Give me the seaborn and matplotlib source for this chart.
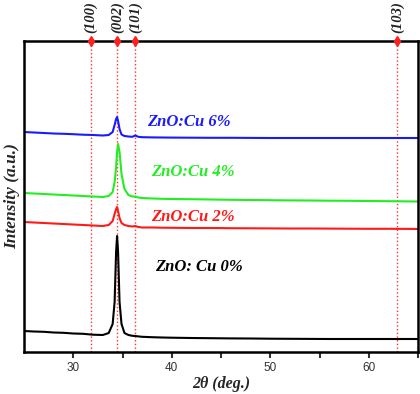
import matplotlib
matplotlib.use("Agg")
import matplotlib.pyplot as plt
import seaborn as sns
import pandas as pd

# ---- data ----
two_theta = [25, 26, 27, 28, 29, 30, 31, 32, 33, 33.6, 34.0, 34.2, 34.35, 34.45,
             34.55, 34.7, 34.9, 35.2, 35.6, 36.0, 36.3, 36.6, 37, 38, 39, 40, 42,
             44, 46, 48, 50, 52, 54, 56, 58, 60, 62, 64, 65]
cu0 = [21, 20.5, 20.2, 19.5, 19.2, 18.5, 18.2, 17.3, 17, 19, 28, 50, 100, 116,
       100, 50, 28, 19, 17, 16.2, 16, 15.6, 15.2, 14.8, 14.5, 14.3, 14, 13.8, 13.6,
       13.5, 13.3, 13.2, 13.1, 13, 13, 13, 13, 13, 13]
cu2 = [130, 129.5, 129, 128.5, 128, 127.5, 127, 126.5, 126, 127, 131, 138, 143, 145,
       141, 134, 129, 127, 126, 125.5, 126, 125, 124.5, 124.5, 124.3, 124.2, 124, 124,
       123.8, 123.7, 123.6, 123.5, 123.5, 123.4, 123.3, 123.2, 123.2, 123.1, 123]
cu4 = [159, 158.5, 158, 157.5, 157, 156.5, 156, 155.5, 155, 156, 160, 170, 185, 200,
       208, 200, 178, 163, 157, 155.5, 155.5, 154.5, 154, 153.5, 153.2, 153, 152.8,
       152.5, 152.2, 152, 151.8, 151.6, 151.5, 151.3, 151.2, 151, 150.8, 150.6, 150.5]
cu6 = [220, 219.5, 219, 218.5, 218.2, 217.8, 217.3, 217, 216.5, 217, 220, 227, 233, 235,
       231, 223, 217.5, 216, 215.5, 215.2, 216.5, 215.2, 214.8, 214.6, 214.5, 214.4,
       214.3, 214.2, 214.2, 214.1, 214, 214, 214, 214, 214, 214, 214, 214, 214]
series_names = ["ZnO: Cu 0%", "ZnO:Cu 2%", "ZnO:Cu 4%", "ZnO:Cu 6%"]
series_values = [cu0, cu2, cu4, cu6]
series_colors = ["black", "#ff1a1a", "#22ee22", "#1a1aff"]
label_pos = [(38.3, 85), (37.9, 135), (37.9, 180), (37.5, 230)]

peak_pos = [31.8, 34.45, 36.3, 62.9]
peak_labels = ["(100)", "(002)", "(101)", "(103)"]

xticks = [30, 40, 50, 60]

# ---- figure ----
sns.set_theme(style="white")
plt.rcParams["font.family"] = ["Liberation Sans", "DejaVu Sans"]
fig = plt.figure(figsize=(4.2, 3.94), dpi=100)
ax = fig.add_axes([24 / 420, (394 - 352) / 394, (418 - 24) / 420, (352 - 41) / 394])

rows = []
for name, vals in zip(series_names, series_values):
    for x, y in zip(two_theta, vals):
        rows.append({"2theta": x, "I": y, "sample": name})
df = pd.DataFrame(rows)

for name, col in zip(series_names, series_colors):
    sns.lineplot(data=df[df["sample"] == name], x="2theta", y="I", color=col,
                 lw=1.5, sort=False, estimator=None, ax=ax, legend=False)

for (lx, ly), name, col in zip(label_pos, series_names, series_colors):
    ax.text(lx, ly, name, color=col, fontsize=12, fontweight="bold",
            fontstyle="italic", family="Liberation Serif", va="center", ha="left")

ax.set_xlim(25, 65)
ax.set_ylim(0, 311)

for p, lab in zip(peak_pos, peak_labels):
    ax.axvline(p, color="#ff3030", ls=":", lw=1.0, zorder=0.5)
    ax.plot([p], [311], marker="d", color="#ff2020", ms=5, clip_on=False, zorder=5)
    ax.text(p, 319, lab, rotation=90, ha="center", va="bottom", fontsize=10.5,
            fontweight="bold", fontstyle="italic", family="Liberation Serif",
            color="#222222")

ax.set_xticks(xticks)
ax.set_xticks([35, 45, 55, 65], minor=True)
ax.set_yticks([])
ax.tick_params(axis="x", which="both", direction="out", length=4, width=1.5,
               bottom=True, labelsize=8.5, colors="#333333", pad=3)
for s in ax.spines.values():
    s.set_color("black")
    s.set_linewidth(1.8)

ax.set_xlabel("2θ (deg.)", fontsize=11.5, fontweight="bold", fontstyle="italic",
              family="Liberation Serif", labelpad=2)
ax.set_ylabel("Intensity (a.u.)", fontsize=12.5, fontweight="bold",
              fontstyle="italic", family="Liberation Serif", labelpad=3)

fig.savefig("out.png", dpi=100)
